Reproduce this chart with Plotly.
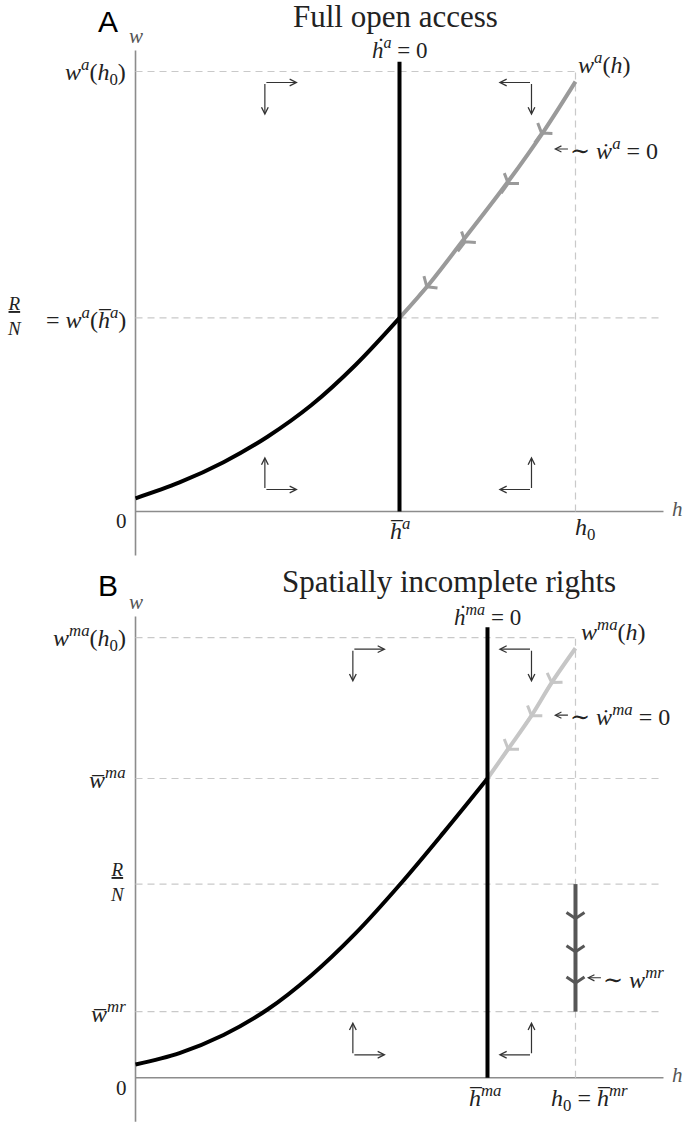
import math

import plotly.graph_objects as go

# ---- panel A: full open access ----
a_black_h = [0.0, 1.0, 2.0, 3.0, 4.0, 5.0, 6.0]
a_black_w = [0.30, 0.66, 1.12, 1.70, 2.42, 3.33, 4.40]
a_grey_h = [6.0, 6.69, 7.45, 8.44, 9.27, 10.0]
a_grey_w = [4.40, 5.19, 6.17, 7.46, 8.63, 9.77]
a_mark_h = [6.62, 7.49, 8.47, 9.23]
a_mark_w = [5.11, 6.13, 7.46, 8.60]
a_hbar = 6.0
a_top = 10.22
a_levels = [10.0, 4.4]          # w^a(h0), R/N

# ---- panel B: spatially incomplete rights ----
b_black_h = [0.0, 1.0, 2.0, 3.0, 4.0, 5.0, 6.0, 7.0, 8.0]
b_black_w = [0.30, 0.56, 0.97, 1.55, 2.33, 3.28, 4.38, 5.57, 6.80]
b_grey_h = [8.0, 8.47, 9.0, 9.46, 10.0]
b_grey_w = [6.80, 7.47, 8.23, 8.98, 9.76]
b_mark_h = [8.47, 9.0, 9.46]
b_mark_w = [7.47, 8.23, 8.98]
b_mr_w = [4.40, 1.50]           # w^mr segment at h0
b_mr_marks = [3.62, 2.86, 2.15]
b_hbar = 8.0
b_top = 10.24
b_levels = [10.0, 6.8, 4.4, 1.5]  # w^ma(h0), wbar^ma, R/N, wbar^mr

h0 = 10.0
h_max = 12.0

# phase arrows: corner h, corner w, horizontal sign, vertical sign
a_arrows = [(2.94, 9.75, 1, -1), (9.0, 9.75, -1, -1), (2.94, 0.50, 1, 1), (9.0, 0.50, -1, 1)]
b_arrows = [(4.94, 9.74, 1, -1), (9.0, 9.74, -1, -1), (4.94, 0.52, 1, 1), (9.0, 0.52, -1, 1)]
arrow_len = 0.75

SERIF = "Liberation Serif, DejaVu Serif, serif"
SANS = "Liberation Sans, Arial, sans-serif"
AXIS_C = "#8c8c8c"
DASH_C = "#c9c9c9"
INK = "#222222"
MATH = 24


def seg_angles(hs, ws, mh, mw):
    """Marker angles pointing down the curve (towards lower h)."""
    out = []
    for x, y in zip(mh, mw):
        i = 0
        while i < len(hs) - 2 and hs[i + 1] < x:
            i += 1
        dx = hs[i] - hs[i + 1]
        dy = ws[i] - ws[i + 1]
        out.append(math.degrees(math.atan2(dx, dy)))
    return out


fig = go.Figure()
shapes = []
annotations = []


def line_shape(xr, yr, x0, y0, x1, y1, color, width, dash="solid"):
    shapes.append(dict(type="line", xref=xr, yref=yr, x0=x0, y0=y0, x1=x1, y1=y1,
                       line=dict(color=color, width=width, dash=dash), layer="below"))


def label(text, x, y, xr, yr, size=MATH, xanchor="center", family=SERIF, color=INK):
    annotations.append(dict(text=text, x=x, y=y, xref=xr, yref=yr, showarrow=False,
                            xanchor=xanchor, yanchor="middle",
                            font=dict(family=family, size=size, color=color)))


def wave_label(text, x, y, xr, yr):
    # pointer arrow with a wiggle, head at (x, y), text to the right
    annotations.append(dict(text="\u223c " + text, x=x, y=y, xref=xr, yref=yr,
                            showarrow=True, ax=14, ay=0, xanchor="left", yanchor="middle",
                            arrowhead=5, arrowsize=1.1, arrowwidth=1.1, arrowcolor="#333333",
                            standoff=0, font=dict(family=SERIF, size=MATH, color=INK)))


def phase_arrows(arrs, xr, yr):
    for ch, cw, sx, sy in arrs:
        for hx, wy in ((ch + sx * arrow_len, cw), (ch, cw + sy * arrow_len)):
            annotations.append(dict(text="", x=hx, y=wy, ax=ch, ay=cw, xref=xr, yref=yr,
                                    axref=xr, ayref=yr, showarrow=True, arrowhead=5,
                                    arrowsize=1.1, arrowwidth=1.2, arrowcolor="#333333",
                                    standoff=0, startstandoff=0))


def panel(xr, yr, black_h, black_w, grey_h, grey_w, grey_c, mark_h, mark_w, hbar, top, levels):
    xa, ya = xr, yr
    # axes
    line_shape(xa, ya, 0, -1.0, 0, 10.48, AXIS_C, 1.6)
    line_shape(xa, ya, 0, 0, h_max, 0, AXIS_C, 1.6)
    # guides
    dash = "7px,5px"
    line_shape(xa, ya, 0, levels[0], h0, levels[0], DASH_C, 1.2, dash)
    for lv in levels[1:]:
        line_shape(xa, ya, 0, lv, h_max, lv, DASH_C, 1.2, dash)
    line_shape(xa, ya, h0, 0, h0, levels[0], DASH_C, 1.2, dash)

    fig.add_trace(go.Scatter(x=black_h, y=black_w, mode="lines", xaxis=xa, yaxis=ya,
                             line=dict(color="black", width=4, shape="spline", smoothing=1)))
    fig.add_trace(go.Scatter(x=grey_h, y=grey_w, mode="lines", xaxis=xa, yaxis=ya,
                             line=dict(color=grey_c, width=4, shape="spline", smoothing=1)))
    fig.add_trace(go.Scatter(x=mark_h, y=mark_w, mode="markers", xaxis=xa, yaxis=ya,
                             marker=dict(symbol="y-up", size=15, color=grey_c,
                                         angle=seg_angles(grey_h, grey_w, mark_h, mark_w),
                                         line=dict(color=grey_c, width=3))))
    fig.add_trace(go.Scatter(x=[hbar, hbar], y=[0, top], mode="lines", xaxis=xa, yaxis=ya,
                             line=dict(color="black", width=4)))


panel("x", "y", a_black_h, a_black_w, a_grey_h, a_grey_w, "#9a9a9a",
      a_mark_h, a_mark_w, a_hbar, a_top, a_levels)
panel("x2", "y2", b_black_h, b_black_w, b_grey_h, b_grey_w, "#c6c6c6",
      b_mark_h, b_mark_w, b_hbar, b_top, b_levels)

# w^mr segment
fig.add_trace(go.Scatter(x=[h0, h0], y=b_mr_w, mode="lines", xaxis="x2", yaxis="y2",
                         line=dict(color="#575757", width=4)))
fig.add_trace(go.Scatter(x=[h0] * len(b_mr_marks), y=b_mr_marks, mode="markers",
                         xaxis="x2", yaxis="y2",
                         marker=dict(symbol="y-up", size=15, color="#575757", angle=180,
                                     line=dict(color="#575757", width=3))))

phase_arrows(a_arrows, "x", "y")
phase_arrows(b_arrows, "x2", "y2")

# ---- labels panel A ----
label("A", -0.62, 11.14, "x", "y", size=30, family=SANS, color="black")
label("Full open access", 5.92, 11.24, "x", "y", size=31)
label("<i>w</i>", 0.02, 10.80, "x", "y", size=21, color="#555")
label("<i>w</i><sup><i>a</i></sup>(<i>h</i><sub>0</sub>)", -0.17, a_levels[0], "x", "y", xanchor="right")
label("= <i>w</i><sup><i>a</i></sup>(<i>h\u0305</i><sup><i>a</i></sup>)", -0.17, a_levels[1], "x", "y", xanchor="right")
label("<i><u>R</u></i><br><i>N</i>", -2.74, a_levels[1] + 0.05, "x", "y", size=19)
label("0", -0.31, -0.22, "x", "y", size=21)
label("<i>h\u0305</i><sup><i>a</i></sup>", a_hbar, -0.40, "x", "y")
label("<i>h</i><sub>0</sub>", h0 + 0.22, -0.40, "x", "y")
label("<i>h</i>", 12.15, 0.05, "x", "y", size=21, xanchor="left", color="#555")
label("<i>\u1e23</i><sup><i>a</i></sup> = 0", a_hbar, 10.52, "x", "y", size=23)
label("<i>w</i><sup><i>a</i></sup>(<i>h</i>)", h0 + 0.02, 10.20, "x", "y", xanchor="left")
wave_label("<i>\u1e87</i><sup><i>a</i></sup> = 0", 9.51, 8.24, "x", "y")

# ---- labels panel B ----
label("B", -0.62, 11.18, "x2", "y2", size=30, family=SANS, color="black")
label("Spatially incomplete rights", 7.13, 11.28, "x2", "y2", size=31)
label("<i>w</i>", 0.02, 10.81, "x2", "y2", size=21, color="#555")
label("<i>w</i><sup><i>ma</i></sup>(<i>h</i><sub>0</sub>)", -0.17, b_levels[0], "x2", "y2", xanchor="right")
label("<i>w\u0305</i><sup><i>ma</i></sup>", -0.17, b_levels[1], "x2", "y2", xanchor="right")
label("<i><u>R</u></i><br><i>N</i>", -0.42, b_levels[2] + 0.05, "x2", "y2", size=19)
label("<i>w\u0305</i><sup><i>mr</i></sup>", -0.17, b_levels[3], "x2", "y2", xanchor="right")
label("0", -0.31, -0.24, "x2", "y2", size=21)
label("<i>\u1e23</i><sup><i>ma</i></sup> = 0", b_hbar, 10.50, "x2", "y2", size=23)
label("<i>w</i><sup><i>ma</i></sup>(<i>h</i>)", h0 + 0.08, 10.18, "x2", "y2", xanchor="left")
wave_label("<i>\u1e87</i><sup><i>ma</i></sup> = 0", 9.51, 8.24, "x2", "y2")
wave_label("<i>w</i><sup><i>mr</i></sup>", h0 + 0.26, 2.27, "x2", "y2")
label("<i>h\u0305</i><sup><i>ma</i></sup>", b_hbar - 0.04, -0.42, "x2", "y2")
label("<i>h</i><sub>0</sub> = <i>h\u0305</i><sup><i>mr</i></sup>", h0 + 0.31, -0.46, "x2", "y2")
label("<i>h</i>", 12.15, 0.05, "x2", "y2", size=21, xanchor="left", color="#555")

split = 1 - 560 / 1123
axis_common = dict(visible=False, showgrid=False, zeroline=False, fixedrange=True)
fig.update_layout(
    width=685,
    height=1123,
    margin=dict(l=0, r=0, t=0, b=0),
    paper_bgcolor="white",
    plot_bgcolor="white",
    showlegend=False,
    xaxis=dict(domain=[0, 1], range=[-3.080, 12.489], anchor="y", **axis_common),
    yaxis=dict(domain=[split, 1], range=[-1.102, 11.625], anchor="x", **axis_common),
    xaxis2=dict(domain=[0, 1], range=[-3.080, 12.489], anchor="y2", **axis_common),
    yaxis2=dict(domain=[0, split], range=[-1.030, 11.766], anchor="x2", **axis_common),
    shapes=shapes,
    annotations=annotations,
)

# drop the default page margin so the figure sits at the window's corner
fig.write_html("out.html", config={"displayModeBar": False},
               post_script="document.body.style.margin = '0';")
